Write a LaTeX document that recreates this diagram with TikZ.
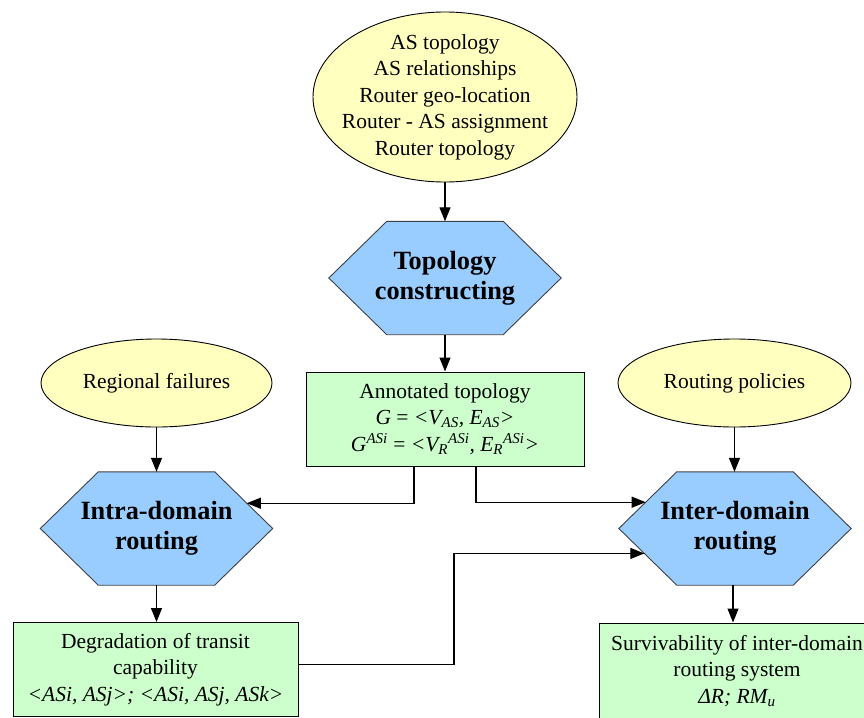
\documentclass[tikz,border=0pt]{standalone}
\usepackage{fontspec}
\setmainfont{Liberation Serif}
\usetikzlibrary{arrows.meta,shapes.geometric,backgrounds,calc}
\definecolor{ellfill}{RGB}{255,255,192}
\definecolor{hexfill}{RGB}{153,204,255}
\definecolor{boxfill}{RGB}{204,255,204}
\definecolor{hexline}{RGB}{64,64,64}
\newcommand\hexcut{58pt}
\newcommand\drawhex[1]{%
  \begin{scope}[on background layer]
    \draw[hexdraw] (#1.west) -- ([xshift=\hexcut]#1.north west) coordinate (#1-nw)
      -- ([xshift=-\hexcut]#1.north east) coordinate (#1-ne) -- (#1.east)
      -- ([xshift=-\hexcut]#1.south east) coordinate (#1-se)
      -- ([xshift=\hexcut]#1.south west) coordinate (#1-sw) -- cycle;
  \end{scope}}
\begin{document}
\begin{tikzpicture}[x=1pt,y=-1pt,
  txt/.style={font=\fontsize{21.5}{26.5}\selectfont, align=center, inner sep=0pt},
  ell/.style={txt, ellipse, draw=black, line width=0.9pt, fill=ellfill},
  hexnode/.style={rectangle, inner sep=0pt, minimum width=232pt, minimum height=113pt,
     align=center, font=\fontsize{26.3}{30}\selectfont\bfseries},
  hexdraw/.style={draw=hexline, line width=0.9pt, fill=hexfill},
  box/.style={txt, rectangle, draw=black, line width=1pt, fill=boxfill},
  arr/.style={line width=1.2pt, -{Triangle[length=14pt,width=11pt]}}]
\useasboundingbox (0,0) rectangle (864,717);
\clip (0,0) rectangle (864,717);

\node[ell, inner xsep=-11pt, inner ysep=-7pt, minimum width=264pt, minimum height=170pt] (src) at (445,97)
  {AS topology\\AS relationships\\Router geo-location\\Router - AS assignment\\Router topology};
\node[hexnode] (topo) at (445,278) {Topology\\constructing};
\drawhex{topo}

\node[box, minimum width=278pt, minimum height=94pt] (annot) at (445,419)
  {Annotated topology\\
   \textit{G} = \textit{<V\textsubscript{AS}, E\textsubscript{AS}>}\\
   \textit{G\textsuperscript{ASi}} = \textit{<V\textsubscript{R}\textsuperscript{ASi}, E\textsubscript{R}\textsuperscript{ASi}>}};

\node[ell, minimum width=231pt, minimum height=88pt] (regf) at (156.5,383) {Regional failures};
\node[ell, minimum width=233pt, minimum height=88pt] (rpol) at (734.5,383) {Routing policies};

\node[hexnode] (intra) at (156.5,528.5) {Intra-domain\\routing};
\drawhex{intra}
\node[hexnode] (inter) at (735,528.5) {Inter-domain\\routing};
\drawhex{inter}

\node[box, minimum width=285pt, minimum height=94pt] (degr) at (155.5,669.5)
  {Degradation of transit\\capability\\\textit{<ASi, ASj>; <ASi, ASj, ASk>}};
\node[box, minimum width=276pt, minimum height=96pt] (surv) at (737,671)
  {Survivability of inter-domain\\routing system\\\textit{ΔR; RM\textsubscript{u}}};

\coordinate (intraE) at ($(intra-ne)!0.554!(intra.east)$);
\coordinate (interW1) at ($(inter-nw)!0.536!(inter.west)$);
\coordinate (interW2) at ($(inter.west)!0.44!(inter-sw)$);
\coordinate (jog) at (454,0);

\draw[arr] (src) -- (topo);
\draw[arr] (topo) -- (annot);
\draw[arr] (regf.south) -- (regf.south |- intra.north);
\draw[arr] (rpol.south) -- (rpol.south |- inter.north);
\draw[arr] (intra.south) -- (intra.south |- degr.north);
\draw[arr] ([xshift=-2pt]inter.south) -- ([xshift=-2pt]inter.south |- surv.north);
\draw[arr] ([xshift=-31pt]annot.south) |- (intraE);
\draw[arr] ([xshift=31pt]annot.south) |- (interW1);
\draw[arr] ([yshift=5pt]degr.east) -| (jog |- interW2) -- (interW2);
\end{tikzpicture}
\end{document}
